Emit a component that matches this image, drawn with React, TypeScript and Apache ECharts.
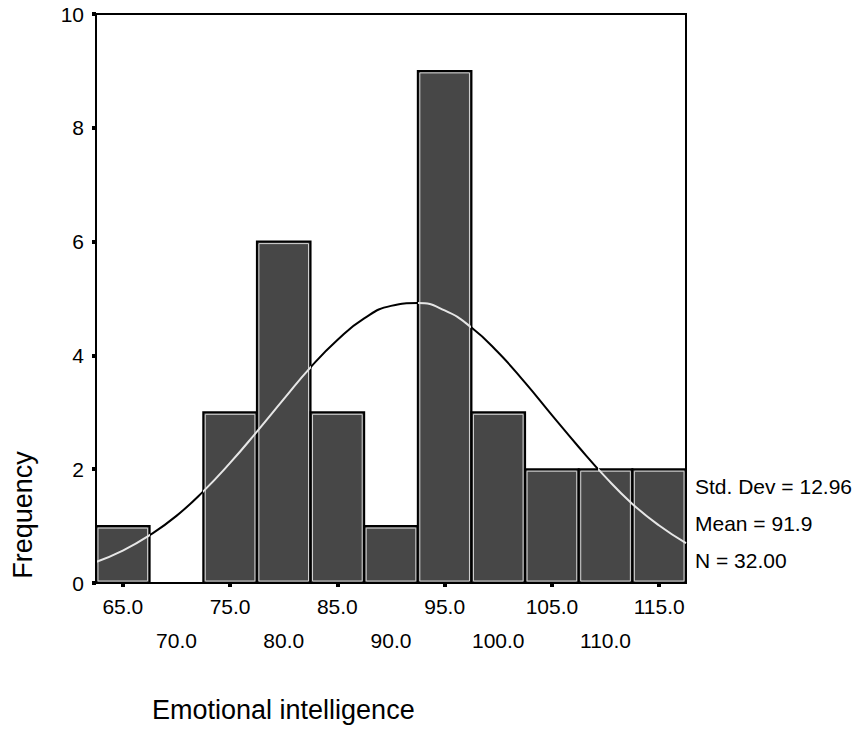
import React, { useEffect, useRef } from "react";
import * as echarts from "echarts";

// Histogram bins (centres) and their labels
const binCenters = [65, 70, 75, 80, 85, 90, 95, 100, 105, 110, 115];
const binLabels = ["65.0", "70.0", "75.0", "80.0", "85.0", "90.0", "95.0", "100.0", "105.0", "110.0", "115.0"];
const frequencies = [1, 0, 3, 6, 3, 1, 9, 3, 2, 2, 2];

// Fitted normal curve
const curveX = [62.5, 65, 67.5, 70, 72.5, 75, 77.5, 80, 82.5, 85, 87.5, 90, 92.5, 95, 97.5, 100, 102.5, 105, 107.5, 110, 112.5, 115, 117.5];
const curveY = [0.37, 0.57, 0.84, 1.18, 1.61, 2.11, 2.66, 3.23, 3.79, 4.27, 4.65, 4.87, 4.92, 4.79, 4.49, 4.05, 3.52, 2.95, 2.39, 1.86, 1.39, 1.01, 0.7];

const yTicks = [0, 2, 4, 6, 8, 10];
const statLines = ["Std. Dev = 12.96", "Mean = 91.9", "N = 32.00"];
const xTitle = "Emotional intelligence";
const yTitle = "Frequency";

const BIN = 5;
const FONT = "'Liberation Sans', Arial, sans-serif";
const LIGHT = "#e6e6e6";
const DARK = "#000000";

// Split the curve's x-range into segments: light where the curve lies inside a bar
function curveSegments() {
  const segs: { a: number; b: number; light: boolean }[] = [];
  const push = (a: number, b: number, light: boolean) => {
    if (b - a < 1e-9) return;
    const last = segs[segs.length - 1];
    if (last && last.light === light && Math.abs(last.b - a) < 1e-9) last.b = b;
    else segs.push({ a, b, light });
  };
  for (let i = 0; i < curveX.length - 1; i++) {
    const xa = curveX[i], xb = curveX[i + 1], ya = curveY[i], yb = curveY[i + 1];
    const mid = (xa + xb) / 2;
    const bi = Math.round((mid - binCenters[0]) / BIN);
    const h = frequencies[bi] ?? 0;
    const inA = ya <= h, inB = yb <= h;
    if (inA === inB) push(xa, xb, inA);
    else {
      const xc = xa + ((h - ya) / (yb - ya)) * (xb - xa);
      push(xa, xc, inA);
      push(xc, xb, inB);
    }
  }
  return segs;
}

export default function App() {
  const ref = useRef<HTMLDivElement>(null);
  useEffect(() => {
    if (!ref.current) return;
    const chart = echarts.init(ref.current, null, { renderer: "svg" });
    const xMin = binCenters[0] - BIN / 2;
    const xMax = binCenters[binCenters.length - 1] + BIN / 2;
    const option: any = {
      animation: false,
      backgroundColor: "#fff",
      textStyle: { fontFamily: FONT },
      grid: {
        left: 96,
        right: 175,
        top: 14,
        bottom: 146,
        show: true,
        borderColor: "#000",
        borderWidth: 2,
        backgroundColor: "transparent",
      },
      xAxis: [
        {
          type: "category",
          data: binLabels,
          boundaryGap: true,
          position: "bottom",
          axisLine: { show: true, lineStyle: { color: "#000", width: 2 } },
          axisTick: { show: true, alignWithLabel: true, length: 4, lineStyle: { color: "#000", width: 4 } },
          axisLabel: {
            interval: (i: number) => i % 2 === 0,
            margin: 13,
            color: "#000",
            fontSize: 21,
            fontFamily: FONT,
          },
          splitLine: { show: false },
          z: 5,
        },
        {
          type: "category",
          data: binLabels,
          boundaryGap: true,
          position: "bottom",
          axisLine: { show: false },
          axisTick: { show: false },
          axisLabel: {
            interval: (i: number) => i % 2 === 1,
            margin: 47,
            color: "#000",
            fontSize: 21,
            fontFamily: FONT,
          },
          splitLine: { show: false },
        },
        {
          type: "value",
          min: xMin,
          max: xMax,
          show: false,
          splitLine: { show: false },
        },
      ],
      yAxis: {
        type: "value",
        min: yTicks[0],
        max: yTicks[yTicks.length - 1],
        interval: 2,
        axisLine: { show: true, lineStyle: { color: "#000", width: 2 } },
        axisTick: { show: true, length: 4, lineStyle: { color: "#000", width: 4 } },
        axisLabel: { color: "#000", fontSize: 21, margin: 12, fontFamily: FONT },
        splitLine: { show: false },
        z: 5,
      },
      series: [
        {
          type: "custom",
          xAxisIndex: 2,
          z: 2,
          data: binCenters.map((c, i) => [c, frequencies[i]]),
          renderItem: (params: any, api: any) => {
            const c = api.value(0);
            const v = api.value(1);
            if (!v) return { type: "group", children: [] };
            const tl = api.coord([c - BIN / 2, v]);
            const br = api.coord([c + BIN / 2, 0]);
            const x = tl[0], y = tl[1], w = br[0] - tl[0], h = br[1] - tl[1];
            return {
              type: "group",
              children: [
                { type: "rect", shape: { x, y, width: w, height: h }, style: { fill: "#474747", stroke: "#000", lineWidth: 2 } },
                { type: "rect", shape: { x: x + 2, y: y + 2, width: w - 4, height: h - 4 }, style: { fill: "none", stroke: "#d4d4d4", lineWidth: 1 } },
              ],
            };
          },
        },
        {
          id: "curve",
          type: "line",
          xAxisIndex: 2,
          z: 3,
          smooth: true,
          showSymbol: false,
          symbol: "none",
          data: curveX.map((x, i) => [x, curveY[i]]),
          lineStyle: { width: 2, color: DARK },
        },
      ],
      graphic: [
        ...statLines.map((t, i) => ({
          type: "text",
          left: 695,
          top: [476, 513, 550][i],
          style: { text: t, fill: "#000", font: `21px ${FONT}`, textVerticalAlign: "top" },
        })),
        {
          type: "text",
          x: 23,
          y: 515,
          rotation: Math.PI / 2,
          style: { text: yTitle, fill: "#000", font: `27px ${FONT}`, align: "center", verticalAlign: "middle" },
        },
        {
          type: "text",
          x: 152,
          y: 710,
          style: { text: xTitle, fill: "#000", font: `27px ${FONT}`, align: "left", verticalAlign: "middle" },
        },
      ],
    };
    chart.setOption(option);

    // Hard-stop horizontal gradient: light where the curve passes over a bar
    const px0 = chart.convertToPixel({ xAxisIndex: 2 } as any, xMin) as number;
    const px1 = chart.convertToPixel({ xAxisIndex: 2 } as any, xMax) as number;
    const segs = curveSegments();
    const stops: { offset: number; color: string }[] = [];
    segs.forEach((s) => {
      const c = s.light ? LIGHT : DARK;
      stops.push({ offset: (s.a - xMin) / (xMax - xMin), color: c });
      stops.push({ offset: (s.b - xMin) / (xMax - xMin), color: c });
    });
    chart.setOption({
      series: [
        { id: "curve", lineStyle: { width: 2, color: new echarts.graphic.LinearGradient(px0, 0, px1, 0, stops, true) } },
      ],
    });
    return () => chart.dispose();
  }, []);
  return <div ref={ref} style={{ position: "absolute", left: 0, top: 0, width: 861, height: 729 }} />;
}
